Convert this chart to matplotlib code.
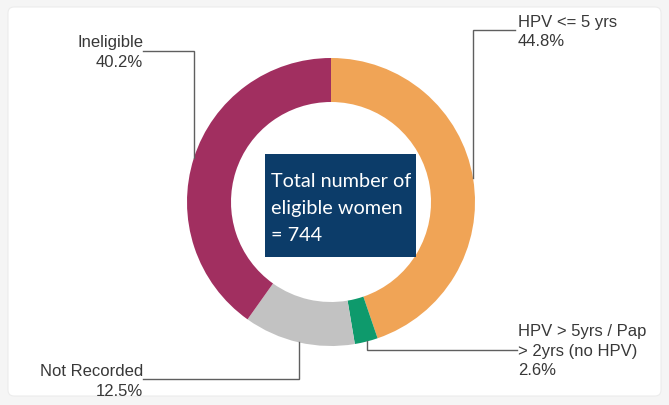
import matplotlib
matplotlib.use("Agg")
import matplotlib.pyplot as plt
from matplotlib.patches import Rectangle, FancyBboxPatch
import numpy as np

# ---- data ----
categories = ["HPV <= 5 yrs", "HPV > 5yrs / Pap\n> 2yrs (no HPV)", "Not Recorded", "Ineligible"]
percentages = [44.8, 2.6, 12.5, 40.2]
colors = ["#F0A456", "#0E9A6C", "#C2C2C2", "#A12F60"]
center_title = "Total number of\neligible women\n= 744"

W, H = 669, 406
fig = plt.figure(figsize=(W / 100, H / 100), dpi=100, facecolor="#f5f5f5")
ax = fig.add_axes([0, 0, 1, 1])
ax.set_xlim(0, W)
ax.set_ylim(0, H)
ax.set_aspect("equal")
ax.axis("off")

def py(y):  # pixel-from-top to data y
    return H - y

# white panel
ax.add_patch(FancyBboxPatch((8, py(397)), W - 16, 389, boxstyle="round,pad=0,rounding_size=6",
                            facecolor="white", edgecolor="#ececec", lw=0.8, zorder=0))

cx, cy, R, ring_w = 331, 203, 144, 44
ax.pie(percentages, colors=colors, startangle=90, counterclock=False,
       radius=R, center=(cx, py(cy)),
       wedgeprops=dict(width=ring_w, edgecolor="none", linewidth=0), frame=True)
ax.set_xlim(0, W)
ax.set_ylim(0, H)
ax.axis("off")

# center box
ax.add_patch(Rectangle((265, py(258)), 151, 103, facecolor="#0C3C69", edgecolor="none", zorder=3))
box_lines = center_title.split("\n")
for i, line in enumerate(box_lines):
    ax.text(271, py(182 + i * 27), line, color="white", fontsize=14.3, family="Lato",
            ha="left", va="center", zorder=4)

line_color = "#5f5f5f"
text_color = "#383838"

def ring_y(x, top):
    d = np.sqrt(R ** 2 - (x - cx) ** 2)
    return cy - d if top else cy + d

# label layouts: (text x, ha, first line y, line-join y, horizontal end x(text side), ring x, top?)
layouts = [
    (518, "left", 22, 31, 515, 473, True),
    (518, "left", 332, 351, 517, 367, False),
    (143, "right", 372, 380, 143, 299, False),
    (143, "right", 43, 52, 143, 194, True),
]

for cat, pct, (tx, ha, ty, ly, lx, rx, top) in zip(categories, percentages, layouts):
    lines = cat.split("\n") + [f"{pct:.1f}%"]
    for i, line in enumerate(lines):
        ax.text(tx, py(ty + i * 19.5), line, ha=ha, va="center", fontsize=12,
                family="Liberation Sans", color=text_color)
    yr = ring_y(rx, top)
    ax.plot([lx, rx, rx], [py(ly), py(ly), py(yr)], color=line_color, lw=1.0,
            solid_joinstyle="miter", zorder=2)

fig.savefig("out.png", dpi=100, facecolor=fig.get_facecolor())
